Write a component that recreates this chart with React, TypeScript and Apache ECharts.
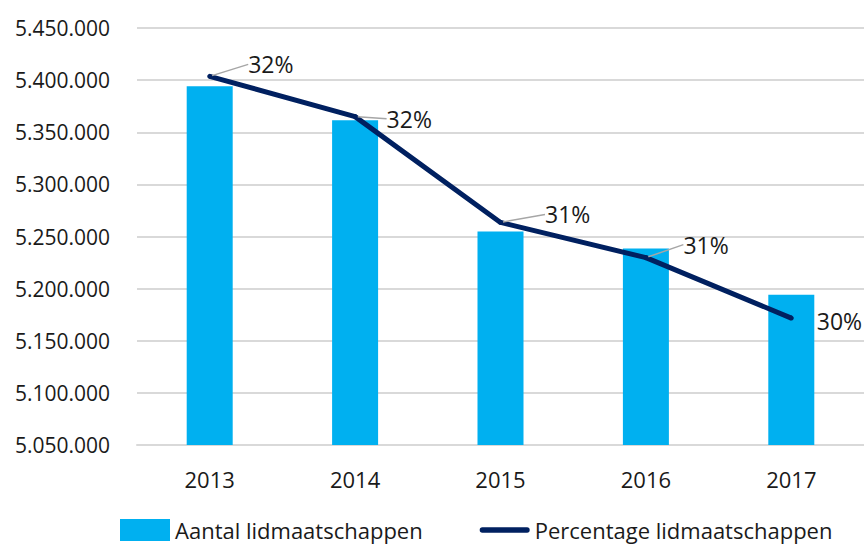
import React, { useEffect, useRef } from "react";
import * as echarts from "echarts";

const years = ["2013", "2014", "2015", "2016", "2017"];
const memberships = [5394200, 5361500, 5254800, 5238500, 5194200];
const percentages = [32.4, 32.0, 30.95, 30.6, 30.0];
const labelOffsets = [
  [34, -12],
  [27, 2],
  [40, -8],
  [33, -13],
  [21, 3],
];
const showLeader = [true, true, true, true, false];

const FONT = "'Open Sans', 'Noto Sans', sans-serif";

function fmtThousands(v: number) {
  return String(Math.round(v)).replace(/\B(?=(\d{3})+(?!\d))/g, ".");
}

export default function App() {
  const ref = useRef<HTMLDivElement>(null);
  useEffect(() => {
    if (!ref.current) return;
    const chart = echarts.init(ref.current, null, { renderer: "svg" });
    chart.setOption({
      animation: false,
      textStyle: { fontFamily: FONT },
      grid: { left: 137, right: 0, top: 28, bottom: 101 },
      legend: {
        left: 115,
        top: 512,
        itemWidth: 50,
        itemHeight: 22,
        itemGap: 57,
        textStyle: { fontSize: 22, lineHeight: 26, color: "#1a1a1a", fontFamily: FONT },
        data: [
          { name: "Aantal lidmaatschappen", icon: "rect" },
          {
            name: "Percentage lidmaatschappen",
            icon: "path://M3,0 L53,0 A3,3 0 0 1 53,6 L3,6 A3,3 0 0 1 3,0 Z",
          },
        ],
      },
      xAxis: {
        type: "category",
        data: years,
        axisLine: { show: true, lineStyle: { color: "#d9d9d9", width: 2 } },
        axisTick: { show: false },
        axisLabel: { color: "#1a1a1a", fontSize: 22, margin: 23, fontFamily: FONT },
      },
      yAxis: [
        {
          type: "value",
          min: 5050000,
          max: 5450000,
          interval: 50000,
          axisLine: { show: false },
          axisTick: { show: false },
          splitLine: { lineStyle: { color: "#d9d9d9", width: 2 } },
          axisLabel: {
            color: "#1a1a1a",
            fontSize: 21,
            margin: 27,
            fontFamily: FONT,
            formatter: (v: number) => fmtThousands(v),
          },
        },
        {
          type: "value",
          min: 28.74,
          max: 32.88,
          show: false,
          splitLine: { show: false },
        },
      ],
      series: [
        {
          name: "Aantal lidmaatschappen",
          type: "bar",
          data: memberships,
          barWidth: 46,
          itemStyle: { color: "#00b0f0" },
        },
        {
          name: "Percentage lidmaatschappen",
          type: "line",
          yAxisIndex: 1,
          data: percentages.map((p, i) => ({
            value: p,
            labelLine: { show: showLeader[i] },
          })),
          symbol: "circle",
          symbolSize: 5,
          itemStyle: { color: "#002060" },
          lineStyle: { color: "#002060", width: 5 },
          label: {
            show: true,
            position: "right",
            distance: 2,
            color: "#1a1a1a",
            fontSize: 23,
            fontFamily: FONT,
            formatter: (p: any) => Math.round(p.value) + "%",
          },
          labelLine: {
            show: true,
            lineStyle: { color: "#a6a6a6", width: 1.5 },
          },
          labelLayout: (params: any) => ({
            dx: labelOffsets[params.dataIndex][0],
            dy: labelOffsets[params.dataIndex][1],
          }),
        },
      ],
    });
    return () => chart.dispose();
  }, []);
  return <div ref={ref} style={{ width: 864, height: 546, position: "absolute", left: 0, top: 0 }} />;
}
